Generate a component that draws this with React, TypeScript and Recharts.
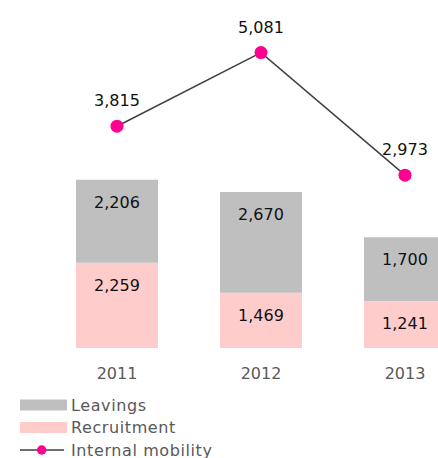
import React from 'react';
import { ComposedChart, Bar, Line, XAxis, YAxis, LabelList, Legend } from 'recharts';

const years = ['2011', '2012', '2013'];
const recruitment = [2259, 1469, 1241];
const leavings = [2206, 2670, 1700];
const internalMobility = [3815, 5081, 2973];

const seriesNames = { leavings: 'Leavings', recruitment: 'Recruitment', mobility: 'Internal mobility' };
const colors = { leavings: '#bfbfbf', recruitment: '#ffcccc', dot: '#ff0090', line: '#404040', text: '#595959' };

const data = years.map((y, i) => ({
  year: y,
  recruitment: recruitment[i],
  leavings: leavings[i],
  mobility: internalMobility[i],
}));

const FONT = '"DejaVu Sans", Verdana, sans-serif';
const fmt = (v: number) => Number(v).toLocaleString('en-US');

const BarValueLabel = (props: any) => {
  const { x, y, width, value } = props;
  return (
    <text x={Number(x) + Number(width) / 2} y={Number(y) + 28} textAnchor="middle" fontSize={16} fill="#111" fontFamily={FONT}>
      {fmt(value)}
    </text>
  );
};

const LineValueLabel = (props: any) => {
  const { x, y, value } = props;
  return (
    <text x={Number(x)} y={Number(y) - 20} textAnchor="middle" fontSize={16} fill="#111" fontFamily={FONT}>
      {fmt(value)}
    </text>
  );
};

const YearTick = (props: any) => {
  const { x, y, payload } = props;
  return (
    <text x={x} y={y} dy={11} textAnchor="middle" fontSize={16} fill={colors.text} fontFamily={FONT}>
      {payload.value}
    </text>
  );
};

const LegendContent = () => {
  const rows = [
    { name: seriesNames.leavings, type: 'rect', color: colors.leavings },
    { name: seriesNames.recruitment, type: 'rect', color: colors.recruitment },
    { name: seriesNames.mobility, type: 'line', color: colors.dot },
  ];
  return (
    <svg width={230} height={68} style={{ display: 'block' }}>
      {rows.map((r, i) => {
        const cy = 11 + i * 22.5;
        return (
          <g key={r.name}>
            {r.type === 'rect' ? (
              <rect x={20} y={cy - 5.5} width={47} height={11} fill={r.color} />
            ) : (
              <g>
                <line x1={20} x2={64} y1={cy} y2={cy} stroke={colors.line} strokeWidth={1.5} />
                <circle cx={41.7} cy={cy} r={4.7} fill={r.color} />
              </g>
            )}
            <text x={71} y={cy + 5.8} fontSize={16} fill={colors.text} fontFamily={FONT} letterSpacing={0.6}>
              {r.name}
            </text>
          </g>
        );
      })}
    </svg>
  );
};

export default function App() {
  return (
    <div style={{ position: 'absolute', left: 0, top: 0, width: 438, height: 458, overflow: 'hidden', background: '#fff' }}>
      <ComposedChart
        width={520}
        height={458}
        data={data}
        margin={{ top: 20, right: 43, bottom: 80, left: 45 }}
        style={{ fontFamily: FONT }}
      >
        <XAxis dataKey="year" axisLine={false} tickLine={false} tickSize={0} tickMargin={20} tick={<YearTick />} height={30} />
        <YAxis yAxisId="bar" hide domain={[0, 8702]} type="number" />
        <YAxis yAxisId="line" hide domain={[0, 5642]} type="number" orientation="right" />
        <Bar yAxisId="bar" dataKey="recruitment" name={seriesNames.recruitment} stackId="a" fill={colors.recruitment} barSize={82} isAnimationActive={false}>
          <LabelList dataKey="recruitment" content={<BarValueLabel />} />
        </Bar>
        <Bar yAxisId="bar" dataKey="leavings" name={seriesNames.leavings} stackId="a" fill={colors.leavings} barSize={82} isAnimationActive={false}>
          <LabelList dataKey="leavings" content={<BarValueLabel />} />
        </Bar>
        <Line
          yAxisId="line"
          dataKey="mobility"
          name={seriesNames.mobility}
          stroke={colors.line}
          strokeWidth={1.5}
          dot={{ r: 6.5, fill: colors.dot, stroke: colors.dot, strokeWidth: 0 }}
          activeDot={false}
          isAnimationActive={false}
        >
          <LabelList dataKey="mobility" content={<LineValueLabel />} />
        </Line>
        <Legend
          layout="horizontal"
          verticalAlign="middle"
          align="center"
          content={<LegendContent />}
          wrapperStyle={{ left: 0, top: 394, width: 230, height: 68 }}
        />
      </ComposedChart>
    </div>
  );
}
